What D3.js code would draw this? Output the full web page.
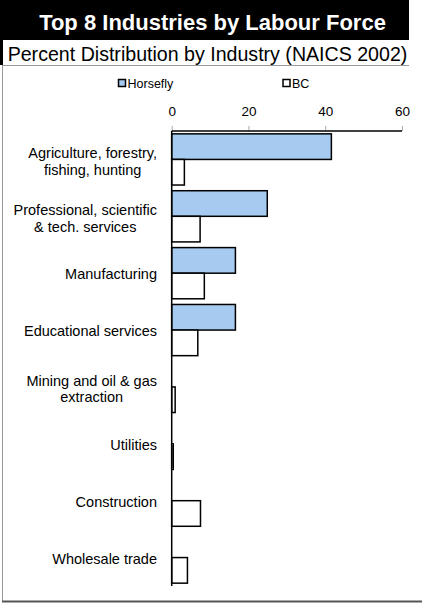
<!DOCTYPE html>
<html>
<head>
<meta charset="utf-8">
<script src="https://cdn.jsdelivr.net/npm/d3@7"></script>
<style>
  html, body { margin: 0; padding: 0; background: #fff; }
  svg { display: block; font-family: "Liberation Sans", Arial, sans-serif; }
</style>
</head>
<body>
<svg id="chart" width="422" height="603"></svg>
<script>
const categories = [
  "Agriculture, forestry,|fishing, hunting",
  "Professional, scientific|& tech. services",
  "Manufacturing",
  "Educational services",
  "Mining and oil & gas|extraction",
  "Utilities",
  "Construction",
  "Wholesale trade"
];
const seriesNames = ["Horsefly", "BC"];
const horsefly = [41.6, 24.9, 16.6, 16.6, 0, 0, 0, 0];
const bc = [3.3, 7.4, 8.5, 6.8, 0.9, 0.4, 7.5, 4.1];
const xTicks = [0, 20, 40, 60];
const colors = { Horsefly: "#A6CAF0", BC: "#FFFFFF" };

const svg = d3.select("#chart");

// Title band
svg.append("rect").attr("x", 0).attr("y", 0).attr("width", 409).attr("height", 40).attr("fill", "#000");
svg.append("text").attr("x", 212.5).attr("y", 30).attr("text-anchor", "middle")
  .attr("fill", "#fff").attr("font-weight", "bold").attr("font-size", 22)
  .text("Top 8 Industries by Labour Force");

// Subtitle
svg.append("text").attr("x", 207.5).attr("y", 61).attr("text-anchor", "middle")
  .attr("fill", "#000").attr("font-size", 19.6)
  .text("Percent Distribution by Industry (NAICS 2002)");

// Frame lines
svg.append("rect").attr("x", 0).attr("y", 40).attr("width", 3).attr("height", 25).attr("fill", "#000");
svg.append("line").attr("x1", 3).attr("x2", 409).attr("y1", 65.5).attr("y2", 65.5).attr("stroke", "#999").attr("stroke-width", 1);
svg.append("line").attr("x1", 2.5).attr("x2", 2.5).attr("y1", 65).attr("y2", 601).attr("stroke", "#999").attr("stroke-width", 1);
svg.append("line").attr("x1", 2).attr("x2", 422).attr("y1", 601.5).attr("y2", 601.5).attr("stroke", "#555").attr("stroke-width", 2);

// Scales
const x = d3.scaleLinear().domain([0, 60]).range([171.7, 402]);
const y = d3.scaleBand().domain(categories).range([131, 586]).paddingInner(0.1).paddingOuter(0.05);
const ySub = d3.scaleBand().domain(seriesNames).range([0, y.bandwidth()]);

// Axis (top)
const xAxis = d3.axisTop(x).tickValues(xTicks).tickSize(5).tickPadding(6);
const gx = svg.append("g").attr("transform", "translate(0,131)").call(xAxis);
gx.select(".domain").remove();
gx.selectAll(".tick line").attr("stroke", "#aaa");
gx.selectAll(".tick text").attr("font-size", 13.5).attr("fill", "#000")
  .attr("font-family", "Liberation Sans, Arial, sans-serif").attr("dy", "-4");
svg.append("line").attr("x1", x(0)).attr("x2", x(60)).attr("y1", 131).attr("y2", 131)
  .attr("stroke", "#000").attr("stroke-width", 1.5);

// Bars
const data = categories.map((c, i) => ({ cat: c, vals: [{ s: "Horsefly", v: horsefly[i] }, { s: "BC", v: bc[i] }] }));
const groups = svg.append("g").selectAll("g").data(data).join("g")
  .attr("transform", d => `translate(0,${y(d.cat)})`);
groups.selectAll("rect").data(d => d.vals.filter(e => e.v > 0)).join("rect")
  .attr("x", x(0))
  .attr("y", d => ySub(d.s))
  .attr("width", d => x(d.v) - x(0))
  .attr("height", ySub.bandwidth())
  .attr("fill", d => colors[d.s])
  .attr("stroke", "#000")
  .attr("stroke-width", 1.5);

// Vertical axis line
svg.append("line").attr("x1", x(0)).attr("x2", x(0)).attr("y1", 131).attr("y2", 586)
  .attr("stroke", "#000").attr("stroke-width", 1.5);

// Category labels (multi-line blocks right-aligned, lines centred within block)
const labelRight = 157;
const labels = svg.append("g").selectAll("text").data(categories).join("text")
  .attr("font-size", 14.5).attr("fill", "#000")
  .attr("y", d => y(d) + y.bandwidth() / 2);
labels.each(function (d) {
  const lines = d.split("|");
  const t = d3.select(this);
  const lh = 16.5;
  const start = -((lines.length - 1) * lh) / 2 + 6 + (lines.length > 1 ? 1 : 0);
  const spans = lines.map((ln, i) =>
    t.append("tspan").attr("dy", i === 0 ? start : lh).text(ln));
  if (lines.length === 1) {
    t.attr("text-anchor", "end");
    spans[0].attr("x", labelRight);
  } else {
    const maxW = d3.max(spans, s => s.node().getComputedTextLength());
    t.attr("text-anchor", "middle");
    spans.forEach(s => s.attr("x", labelRight - maxW / 2));
  }
});

// Legend
const legendPos = [{ s: "Horsefly", x: 118 }, { s: "BC", x: 282.5 }];
const lg = svg.append("g").selectAll("g").data(legendPos).join("g")
  .attr("transform", d => `translate(${d.x},79)`);
lg.append("rect").attr("x", 0.5).attr("y", 0.5).attr("width", 7).attr("height", 7)
  .attr("fill", d => colors[d.s]).attr("stroke", "#000").attr("stroke-width", 1.5);
lg.append("text").attr("x", 9.5).attr("y", 8.5).attr("font-size", 12.5).attr("fill", "#000")
  .text(d => d.s);
</script>
</body>
</html>
